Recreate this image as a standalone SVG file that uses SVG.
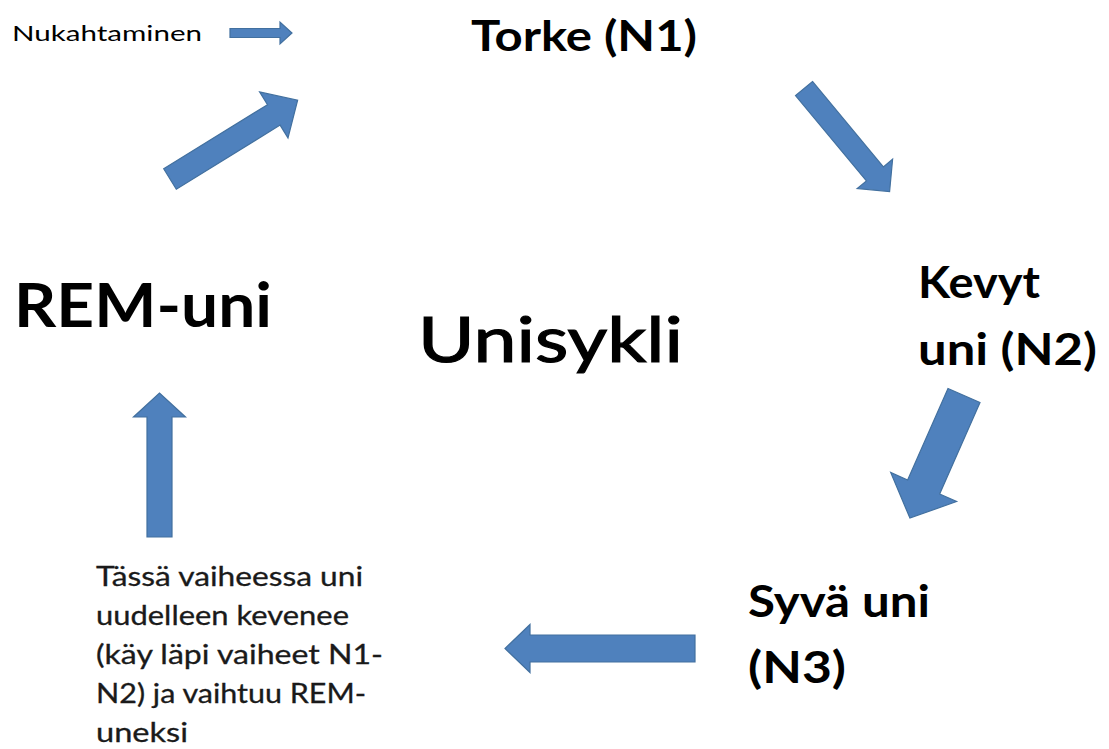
<svg xmlns="http://www.w3.org/2000/svg" width="1109" height="749" viewBox="0 0 1109 749">
<style>
.arr{fill:#4f81bd;stroke:#42709f;stroke-width:1.2;stroke-linejoin:miter}
.t{font-family:Lato,"Open Sans","Liberation Sans",sans-serif;fill:#000}
.b{font-weight:bold}
.s{font-family:Lato,"Open Sans","Liberation Sans",sans-serif;fill:#1a1a1a;font-size:26px;stroke:#1a1a1a;stroke-width:0.3}
.u{stroke:#000;stroke-width:1.2}
</style>
<rect width="1109" height="749" fill="#fff"/>
<g id="connectors">
<path class="arr" transform="translate(230,33)" d="M0,-4.5 H50 V-11 L62,0 L50,11 V4.5 H0 Z"/>
<path class="arr" transform="translate(170,179) rotate(-31.7)" d="M0,-12 H122 V-27 L150,0 L122,27 V12 H0 Z"/>
<path class="arr" transform="translate(804,88.5) rotate(50.3)" d="M0,-11 H111 V-23 L134,0 L111,23 V11 H0 Z"/>
<path class="arr" transform="translate(964,395.5) rotate(113.8)" d="M0,-17.5 H100 V-36 L134,0 L100,36 V17.5 H0 Z"/>
<path class="arr" transform="translate(695,648.5) rotate(180)" d="M0,-13.5 H165 V-24 L190,0 L165,24 V13.5 H0 Z"/>
<path class="arr" transform="translate(159.5,537) rotate(-90)" d="M0,-12.5 H120 V-26 L144,0 L120,26 V12.5 H0 Z"/>
</g>
<g id="nukahtaminen"><text class="t" x="12" y="41" font-size="22" textLength="190" lengthAdjust="spacingAndGlyphs">Nukahtaminen</text></g>
<g id="torke"><text class="t b" x="471" y="51" font-size="42" textLength="226" lengthAdjust="spacingAndGlyphs">Torke  (N1)</text></g>
<g id="kevyt">
<text class="t b" x="918" y="298" font-size="43" textLength="122" lengthAdjust="spacingAndGlyphs">Kevyt</text>
<text class="t b" x="918" y="365" font-size="43" textLength="179" lengthAdjust="spacingAndGlyphs">uni (N2)</text>
</g>
<g id="rem"><text class="t b" x="14" y="327" font-size="61" textLength="258" lengthAdjust="spacingAndGlyphs">REM-uni</text></g>
<g id="unisykli"><text class="t u" x="418" y="362" font-size="62" textLength="265" lengthAdjust="spacingAndGlyphs">Unisykli</text></g>
<g id="syva">
<text class="t b" x="748" y="617" font-size="43" textLength="182" lengthAdjust="spacingAndGlyphs">Syvä uni</text>
<text class="t b" x="748" y="683" font-size="43" textLength="98" lengthAdjust="spacingAndGlyphs">(N3)</text>
</g>
<g id="vaihe">
<text class="s" x="96" y="586" textLength="267" lengthAdjust="spacingAndGlyphs">Tässä vaiheessa uni</text>
<text class="s" x="96" y="625" textLength="253" lengthAdjust="spacingAndGlyphs">uudelleen kevenee</text>
<text class="s" x="96" y="664" textLength="287" lengthAdjust="spacingAndGlyphs">(käy läpi vaiheet N1-</text>
<text class="s" x="96" y="703" textLength="270" lengthAdjust="spacingAndGlyphs">N2) ja vaihtuu REM-</text>
<text class="s" x="96" y="742" textLength="92" lengthAdjust="spacingAndGlyphs">uneksi</text>
</g>
</svg>
